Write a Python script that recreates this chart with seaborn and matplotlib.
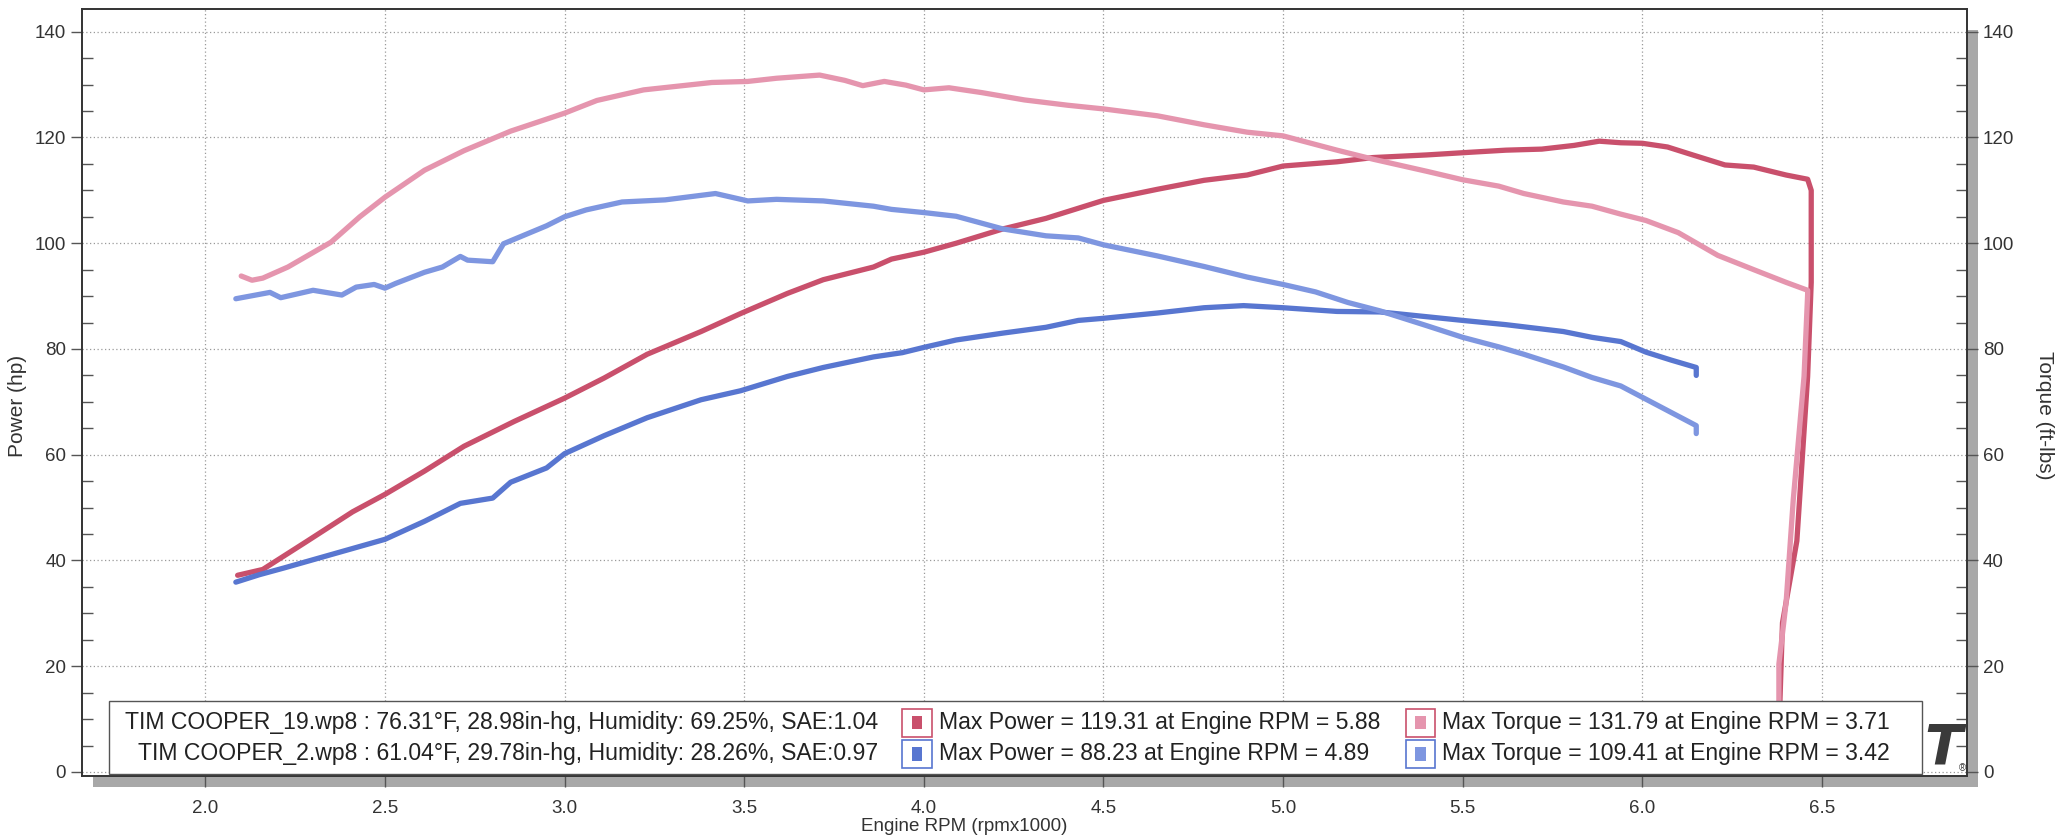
import numpy as np
import pandas as pd
import matplotlib
matplotlib.use("Agg")
import matplotlib.pyplot as plt
from matplotlib.patches import Rectangle
from matplotlib.ticker import MultipleLocator, FormatStrFormatter
from matplotlib.transforms import blended_transform_factory
import seaborn as sns

# run 19 (red / pink)
rpm19_hp = [2.09, 2.16, 2.28, 2.41, 2.50, 2.61, 2.72, 2.86, 3.00, 3.11, 3.23, 3.38, 3.49, 3.62,
            3.72, 3.86, 3.91, 4.00, 4.09, 4.22, 4.34, 4.50, 4.65, 4.78, 4.90, 5.00, 5.15, 5.25,
            5.40, 5.52, 5.62, 5.72, 5.81, 5.88, 5.94, 6.00, 6.07, 6.14, 6.23, 6.31, 6.40, 6.46,
            6.47, 6.47, 6.46, 6.43, 6.39, 6.38, 6.37]
hp19 = [37.2, 38.3, 43.5, 49.2, 52.5, 56.9, 61.6, 66.3, 70.7, 74.5, 79.0, 83.3, 86.7, 90.5,
        93.1, 95.5, 97.0, 98.3, 100.0, 102.7, 104.7, 108.1, 110.2, 111.9, 112.9, 114.6, 115.4, 116.2,
        116.7, 117.2, 117.6, 117.8, 118.5, 119.3, 119.0, 118.9, 118.2, 116.7, 114.8, 114.4, 112.9, 112.1,
        110.0, 92.6, 74.8, 43.7, 28.2, 7.3, 0.5]

rpm19_tq = [2.10, 2.13, 2.16, 2.23, 2.35, 2.43, 2.50, 2.61, 2.72, 2.85, 3.00, 3.09, 3.22, 3.41,
            3.51, 3.59, 3.71, 3.78, 3.83, 3.89, 3.95, 4.00, 4.07, 4.16, 4.28, 4.40, 4.50, 4.65,
            4.78, 4.90, 5.00, 5.15, 5.25, 5.40, 5.50, 5.60, 5.67, 5.78, 5.86, 5.94, 6.01, 6.10,
            6.21, 6.31, 6.40, 6.46, 6.46, 6.45, 6.42, 6.40, 6.38, 6.38, 6.37]
tq19 = [93.8, 93.0, 93.4, 95.5, 100.2, 105.0, 108.7, 113.8, 117.5, 121.2, 124.6, 127.0, 129.0, 130.4,
        130.6, 131.2, 131.8, 130.8, 129.8, 130.6, 129.9, 129.0, 129.4, 128.5, 127.1, 126.1, 125.4, 124.1,
        122.4, 121.0, 120.3, 117.6, 115.9, 113.6, 112.0, 110.8, 109.4, 107.8, 107.0, 105.5, 104.3, 102.0,
        97.7, 95.0, 92.6, 91.1, 90.3, 74.8, 51.5, 32.0, 20.4, 7.3, 0.5]

# run 2 (blue)
rpm2_hp = [2.085, 2.15, 2.22, 2.36, 2.50, 2.61, 2.71, 2.80, 2.85, 2.95, 3.00, 3.11, 3.23, 3.38,
           3.49, 3.62, 3.72, 3.86, 3.94, 4.00, 4.09, 4.22, 4.34, 4.43, 4.50, 4.65, 4.78, 4.89,
           5.00, 5.15, 5.27, 5.40, 5.50, 5.62, 5.78, 5.86, 5.94, 6.01, 6.08, 6.15, 6.15]
hp2 = [35.9, 37.3, 38.6, 41.3, 44.0, 47.4, 50.8, 51.8, 54.8, 57.5, 60.2, 63.6, 67.0, 70.4,
       72.1, 74.8, 76.5, 78.5, 79.3, 80.3, 81.7, 83.0, 84.1, 85.4, 85.8, 86.8, 87.8, 88.2,
       87.8, 87.1, 87.0, 86.1, 85.4, 84.6, 83.3, 82.2, 81.4, 79.4, 77.9, 76.5, 75.0]

rpm2_tq = [2.085, 2.18, 2.21, 2.30, 2.38, 2.42, 2.47, 2.50, 2.53, 2.61, 2.66, 2.71, 2.73, 2.80,
           2.83, 2.95, 3.00, 3.06, 3.16, 3.28, 3.42, 3.51, 3.59, 3.72, 3.86, 3.91, 4.00, 4.09,
           4.22, 4.34, 4.43, 4.50, 4.65, 4.78, 4.90, 5.00, 5.09, 5.18, 5.27, 5.40, 5.50, 5.60,
           5.67, 5.78, 5.86, 5.94, 6.01, 6.08, 6.15, 6.15]
tq2 = [89.5, 90.7, 89.7, 91.1, 90.2, 91.7, 92.2, 91.5, 92.4, 94.5, 95.5, 97.5, 96.8, 96.5,
       99.9, 103.3, 105.0, 106.3, 107.8, 108.2, 109.4, 108.0, 108.3, 108.0, 107.0, 106.4, 105.8, 105.1,
       102.7, 101.4, 101.0, 99.7, 97.6, 95.6, 93.6, 92.2, 90.8, 88.8, 87.2, 84.4, 82.2, 80.4,
       79.0, 76.6, 74.6, 73.0, 70.5, 68.0, 65.5, 64.0]

run_info = ["TIM COOPER_19.wp8 : 76.31°F, 28.98in-hg, Humidity: 69.25%, SAE:1.04",
            "TIM COOPER_2.wp8 : 61.04°F, 29.78in-hg, Humidity: 28.26%, SAE:0.97"]
power_info = ["Max Power = 119.31 at Engine RPM = 5.88",
              "Max Power = 88.23 at Engine RPM = 4.89"]
torque_info = ["Max Torque = 131.79 at Engine RPM = 3.71",
               "Max Torque = 109.41 at Engine RPM = 3.42"]

c_hp19, c_tq19 = "#c9506c", "#e595ae"
c_hp2, c_tq2 = "#5876d0", "#7e96e0"

sns.set_theme(style="ticks")
plt.rcParams["font.family"] = ["Liberation Sans", "DejaVu Sans"]

fig = plt.figure(figsize=(20.62, 8.4), dpi=100)
L, B, W, H = 0.0398, 0.0762, 0.9142, 0.9131
ax = fig.add_axes([L, B, W, H])
ax2 = ax.twinx()

# drop shadow behind the plot frame
fig.patches.append(Rectangle((L + 0.0055, B - 0.013), W, H - 0.012, transform=fig.transFigure,
                             facecolor="#a8a8a8", edgecolor="none", zorder=-1))

lw = 3.8
sns.lineplot(x=rpm19_hp, y=hp19, sort=False, estimator=None, color=c_hp19, lw=lw, ax=ax)
sns.lineplot(x=rpm2_hp, y=hp2, sort=False, estimator=None, color=c_hp2, lw=lw, ax=ax)
sns.lineplot(x=rpm19_tq, y=tq19, sort=False, estimator=None, color=c_tq19, lw=lw, ax=ax2)
sns.lineplot(x=rpm2_tq, y=tq2, sort=False, estimator=None, color=c_tq2, lw=lw, ax=ax2)

for a in (ax, ax2):
    a.set_xlim(1.657, 6.904)
    a.set_ylim(-0.76, 144.3)
    a.yaxis.set_major_locator(MultipleLocator(20))
    a.yaxis.set_minor_locator(MultipleLocator(5))

ax.xaxis.set_major_locator(MultipleLocator(0.5))
ax.xaxis.set_major_formatter(FormatStrFormatter("%.1f"))
ax.grid(True, which="major", linestyle=(0, (1, 2)), color="#9a9a9a", linewidth=0.9)

ax.tick_params(axis="x", which="major", direction="out", length=8, width=1, color="#555",
               labelsize=13.5, labelcolor="#333", pad=9)
ax.tick_params(axis="y", which="major", direction="out", length=8, width=1, color="#555",
               labelsize=13.5, labelcolor="#333")
ax.tick_params(axis="y", which="minor", direction="in", length=8, width=1, color="#555")
ax2.tick_params(axis="y", which="major", direction="out", length=8, width=1, color="#555",
                labelsize=13.5, labelcolor="#333")
ax2.tick_params(axis="y", which="minor", direction="in", length=8, width=1, color="#555")

for a in (ax, ax2):
    for s in a.spines.values():
        s.set_color("#333333")
        s.set_linewidth(1.2)

ax.set_xlabel("Engine RPM (rpmx1000)", fontsize=13.5, color="#333")
ax.xaxis.set_label_coords(0.468, -0.055)
ax.set_ylabel("Power (hp)", fontsize=15, color="#333")
ax.yaxis.set_label_coords(-0.029, 0.483)
ax2.set_ylabel("Torque (ft-lbs)", fontsize=15, color="#333", rotation=270)
ax2.yaxis.set_label_coords(1.046, 0.47)

# logo in the corner, partly hidden by the info box
ax2.text(0.9975, 0.001, "T", transform=ax2.transAxes, ha="right", va="bottom", fontsize=40,
         fontweight="bold", fontstyle="italic", family="DejaVu Sans", color="#3a3a3a", zorder=8)
ax2.text(0.9995, 0.004, "®", transform=ax2.transAxes, ha="right", va="bottom", fontsize=7,
         color="#3a3a3a", zorder=9)

# info box (x in axes fraction, y in data units)
btr = blended_transform_factory(ax2.transAxes, ax2.transData)
ax2.add_patch(Rectangle((0.0143, -0.3), 0.9617, 13.7, transform=btr,
                        facecolor="white", edgecolor="#555555", lw=1, zorder=10))
rows_y = [9.3, 3.4]
edge_cols = [c_hp19, c_hp2]
hp_cols = [c_hp19, c_hp2]
tq_cols = [c_tq19, c_tq2]
for i, y in enumerate(rows_y):
    ax2.text(0.4223, y, run_info[i], transform=btr, ha="right", va="center",
             fontsize=16.6, color="#222", zorder=11)
    for xc, fc, label in [(0.443, hp_cols[i], power_info[i]), (0.710, tq_cols[i], torque_info[i])]:
        ax2.add_patch(Rectangle((xc - 0.0078, y - 2.6), 0.0156, 5.2, transform=btr,
                                facecolor="white", edgecolor=edge_cols[i], lw=1.2, zorder=11))
        ax2.add_patch(Rectangle((xc - 0.0027, y - 1.25), 0.0054, 2.5, transform=btr,
                                facecolor=fc, edgecolor="none", zorder=12))
        ax2.text(xc + 0.0115, y, label, transform=btr, ha="left", va="center",
                 fontsize=16.6, color="#222", zorder=11)

fig.savefig("out.png", dpi=100)
